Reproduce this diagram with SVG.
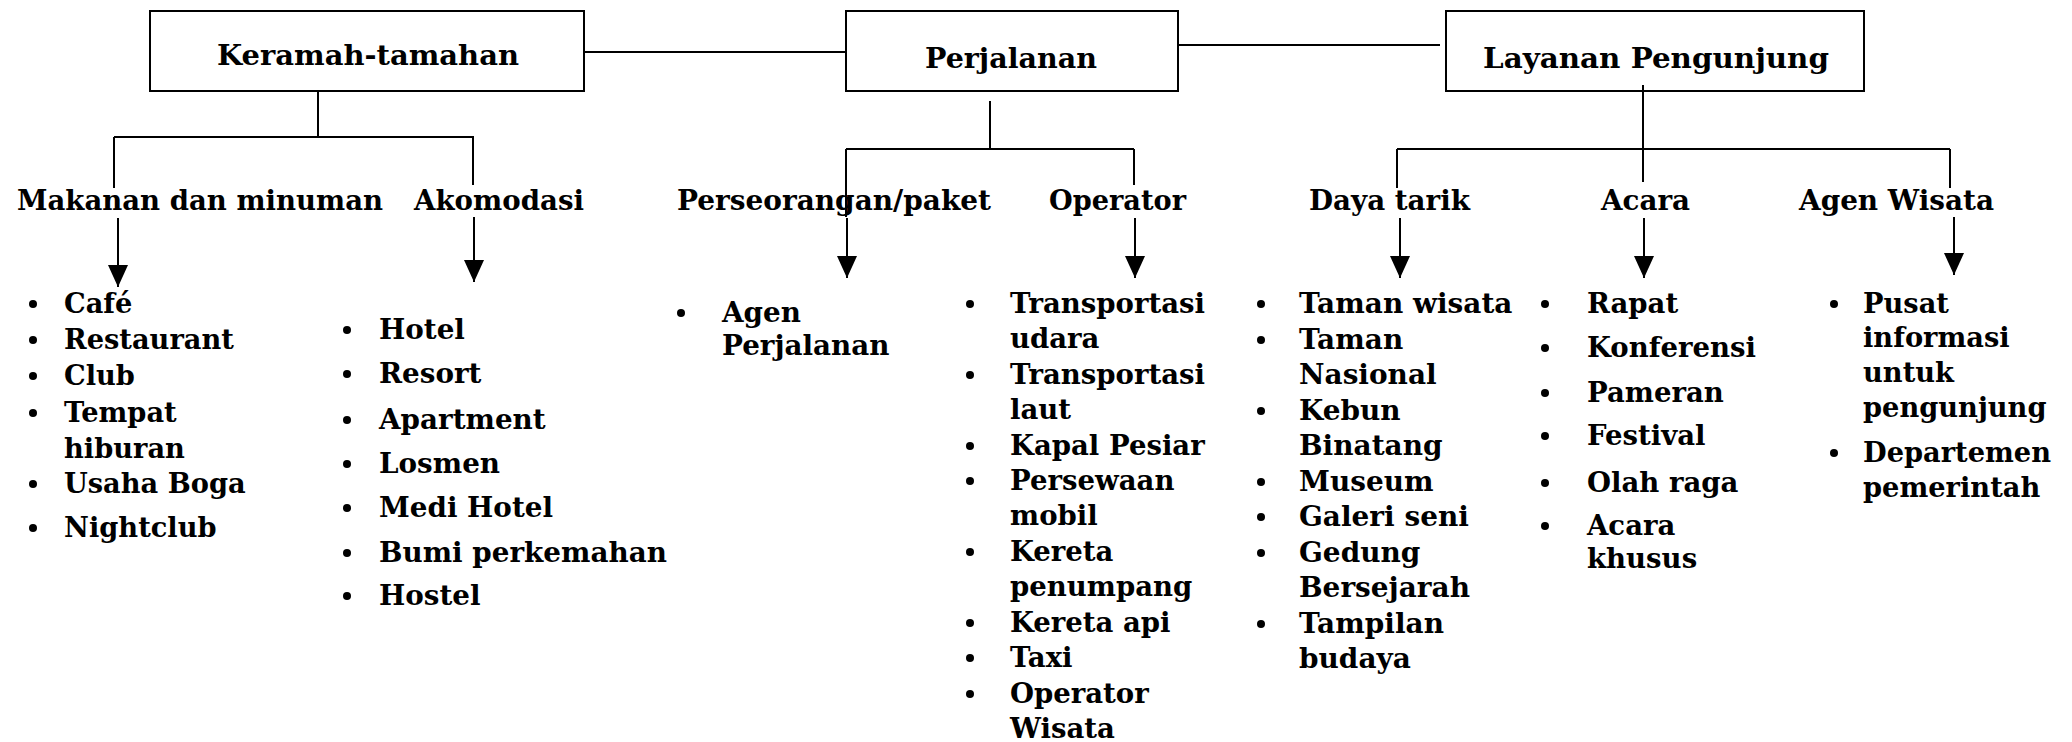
<svg xmlns="http://www.w3.org/2000/svg" width="2072" height="742" viewBox="0 0 2072 742">
<style>
text{font-family:"DejaVu Serif","Liberation Serif",serif;font-weight:bold;font-size:27px;fill:#000}
.box{fill:#fff;stroke:#000;stroke-width:2}
#connectors line{stroke:#000;stroke-width:2;fill:none}
#connectors .ar{marker-end:url(#ah)}
.b{fill:#000}
</style>
<defs>
<marker id="ah" markerUnits="userSpaceOnUse" viewBox="0 0 22 20" refX="22" refY="10" markerWidth="22" markerHeight="20" orient="auto"><path d="M0,0 L22,10 L0,20 z" fill="#000"/></marker>
</defs>
<rect width="2072" height="742" fill="#fff"/>

<g id="node-keramah">
<rect class="box" x="150" y="11" width="434" height="80"/>
<text x="217" y="65" textLength="302" lengthAdjust="spacingAndGlyphs">Keramah-tamahan</text>
</g>
<g id="node-perjalanan">
<rect class="box" x="846" y="11" width="332" height="80"/>
<text x="925" y="68" textLength="172" lengthAdjust="spacingAndGlyphs">Perjalanan</text>
</g>
<g id="node-layanan">
<rect class="box" x="1446" y="11" width="418" height="80"/>
<text x="1483" y="68" textLength="346" lengthAdjust="spacingAndGlyphs">Layanan Pengunjung</text>
</g>

<g id="node-makanan">
<text x="17" y="210" textLength="366" lengthAdjust="spacingAndGlyphs">Makanan dan minuman</text>
<g class="b"><circle cx="33" cy="304" r="4"/><circle cx="33" cy="340" r="4"/><circle cx="33" cy="376" r="4"/><circle cx="33" cy="413" r="4"/><circle cx="33" cy="484" r="4"/><circle cx="33" cy="528" r="4"/></g>
<g transform="translate(64,0) scale(1.01,1)">
<text x="0" y="313">Café</text>
<text x="0" y="349">Restaurant</text>
<text x="0" y="385">Club</text>
<text x="0" y="422">Tempat</text>
<text x="0" y="458">hiburan</text>
<text x="0" y="493">Usaha Boga</text>
<text x="0" y="537">Nightclub</text>
</g>
</g>

<g id="node-akomodasi">
<text x="414" y="210" textLength="170" lengthAdjust="spacingAndGlyphs">Akomodasi</text>
<g class="b"><circle cx="347" cy="330" r="4"/><circle cx="347" cy="374" r="4"/><circle cx="347" cy="420" r="4"/><circle cx="347" cy="464" r="4"/><circle cx="347" cy="508" r="4"/><circle cx="347" cy="553" r="4"/><circle cx="347" cy="596" r="4"/></g>
<g transform="translate(379,0) scale(1.03,1)">
<text x="0" y="339">Hotel</text>
<text x="0" y="383">Resort</text>
<text x="0" y="429">Apartment</text>
<text x="0" y="473">Losmen</text>
<text x="0" y="517">Medi Hotel</text>
<text x="0" y="562">Bumi perkemahan</text>
<text x="0" y="605">Hostel</text>
</g>
</g>

<g id="node-perseorangan">
<text x="677" y="210" textLength="314" lengthAdjust="spacingAndGlyphs">Perseorangan/paket</text>
<circle class="b" cx="681" cy="313" r="4"/>
<g transform="translate(722,0) scale(1.03,1)">
<text x="0" y="322">Agen</text>
<text x="0" y="355">Perjalanan</text>
</g>
</g>

<g id="node-operator">
<text x="1049" y="210" textLength="137" lengthAdjust="spacingAndGlyphs">Operator</text>
<g class="b"><circle cx="970" cy="304" r="4"/><circle cx="970" cy="375" r="4"/><circle cx="970" cy="446" r="4"/><circle cx="970" cy="481" r="4"/><circle cx="970" cy="552" r="4"/><circle cx="970" cy="623" r="4"/><circle cx="970" cy="658" r="4"/><circle cx="970" cy="694" r="4"/></g>
<g transform="translate(1010,0) scale(1.02,1)">
<text x="0" y="313">Transportasi</text>
<text x="0" y="348">udara</text>
<text x="0" y="384">Transportasi</text>
<text x="0" y="419">laut</text>
<text x="0" y="455">Kapal Pesiar</text>
<text x="0" y="490">Persewaan</text>
<text x="0" y="525">mobil</text>
<text x="0" y="561">Kereta</text>
<text x="0" y="596">penumpang</text>
<text x="0" y="632">Kereta api</text>
<text x="0" y="667">Taxi</text>
<text x="0" y="703">Operator</text>
<text x="0" y="738">Wisata</text>
</g>
</g>

<g id="node-dayatarik">
<text x="1309" y="210" textLength="161" lengthAdjust="spacingAndGlyphs">Daya tarik</text>
<g class="b"><circle cx="1261" cy="304" r="4"/><circle cx="1261" cy="340" r="4"/><circle cx="1261" cy="411" r="4"/><circle cx="1261" cy="482" r="4"/><circle cx="1261" cy="517" r="4"/><circle cx="1261" cy="553" r="4"/><circle cx="1261" cy="624" r="4"/></g>
<g transform="translate(1299,0) scale(1.035,1)">
<text x="0" y="313">Taman wisata</text>
<text x="0" y="349">Taman</text>
<text x="0" y="384">Nasional</text>
<text x="0" y="420">Kebun</text>
<text x="0" y="455">Binatang</text>
<text x="0" y="491">Museum</text>
<text x="0" y="526">Galeri seni</text>
<text x="0" y="562">Gedung</text>
<text x="0" y="597">Bersejarah</text>
<text x="0" y="633">Tampilan</text>
<text x="0" y="668">budaya</text>
</g>
</g>

<g id="node-acara">
<text x="1601" y="210" textLength="89" lengthAdjust="spacingAndGlyphs">Acara</text>
<g class="b"><circle cx="1545" cy="304" r="4"/><circle cx="1545" cy="348" r="4"/><circle cx="1545" cy="393" r="4"/><circle cx="1545" cy="436" r="4"/><circle cx="1545" cy="483" r="4"/><circle cx="1545" cy="526" r="4"/></g>
<g transform="translate(1587,0) scale(1.02,1)">
<text x="0" y="313">Rapat</text>
<text x="0" y="357">Konferensi</text>
<text x="0" y="402">Pameran</text>
<text x="0" y="445">Festival</text>
<text x="0" y="492">Olah raga</text>
<text x="0" y="535">Acara</text>
<text x="0" y="568">khusus</text>
</g>
</g>

<g id="node-agenwisata">
<text x="1799" y="210" textLength="195" lengthAdjust="spacingAndGlyphs">Agen Wisata</text>
<g class="b"><circle cx="1834" cy="304" r="4"/><circle cx="1834" cy="453" r="4"/></g>
<g transform="translate(1863,0) scale(1.01,1)">
<text x="0" y="313">Pusat</text>
<text x="0" y="347">informasi</text>
<text x="0" y="382">untuk</text>
<text x="0" y="417">pengunjung</text>
<text x="0" y="462">Departemen</text>
<text x="0" y="497">pemerintah</text>
</g>
</g>

<g id="connectors">
<line x1="584" y1="52" x2="846" y2="52"/>
<line x1="1178" y1="45" x2="1440" y2="45"/>
<line x1="318" y1="91" x2="318" y2="137"/>
<line x1="114" y1="137" x2="474" y2="137"/>
<line x1="114" y1="137" x2="114" y2="188"/>
<line x1="473" y1="137" x2="473" y2="185"/>
<line x1="990" y1="101" x2="990" y2="149"/>
<line x1="846" y1="149" x2="1134" y2="149"/>
<line x1="846" y1="149" x2="846" y2="217"/>
<line x1="1134" y1="149" x2="1134" y2="185"/>
<line x1="1643" y1="85" x2="1643" y2="182"/>
<line x1="1397" y1="149" x2="1950" y2="149"/>
<line x1="1397" y1="149" x2="1397" y2="188"/>
<line x1="1950" y1="149" x2="1950" y2="188"/>
<line class="ar" x1="118" y1="218" x2="118" y2="287"/>
<line class="ar" x1="474" y1="217" x2="474" y2="282"/>
<line class="ar" x1="847" y1="218" x2="847" y2="278"/>
<line class="ar" x1="1135" y1="218" x2="1135" y2="278"/>
<line class="ar" x1="1400" y1="218" x2="1400" y2="278"/>
<line class="ar" x1="1644" y1="218" x2="1644" y2="278"/>
<line class="ar" x1="1954" y1="217" x2="1954" y2="275"/>
</g>
</svg>
